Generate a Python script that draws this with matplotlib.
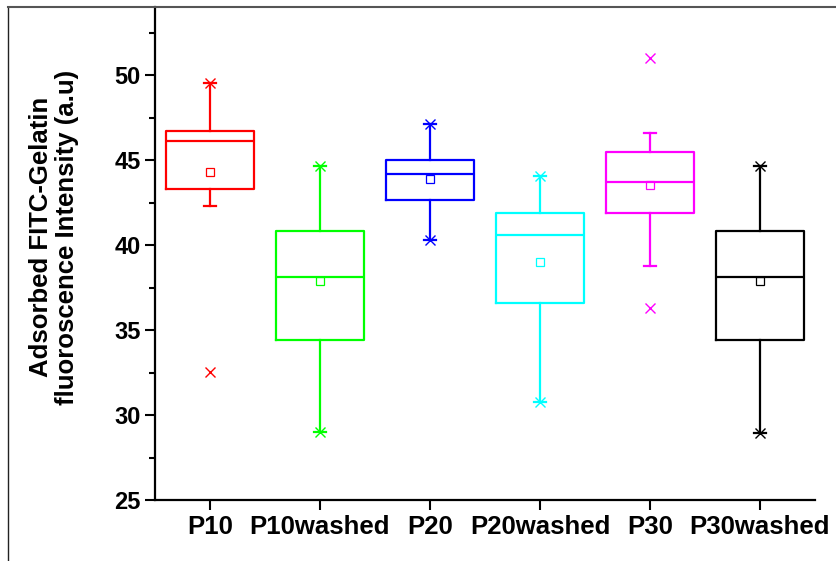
import matplotlib
matplotlib.use("Agg")
import matplotlib.pyplot as plt
from matplotlib.lines import Line2D

plt.rcParams['font.family'] = ['Liberation Sans', 'DejaVu Sans']
plt.rcParams['font.weight'] = 'bold'

# values
groups = ['P10', 'P10washed', 'P20', 'P20washed', 'P30', 'P30washed']
colors = ['#ff0000', '#00ff00', '#0000ff', '#00ffff', '#ff00ff', '#000000']
q1 = [43.3, 34.4, 42.67, 36.6, 41.86, 34.4]
median = [46.1, 38.12, 44.18, 40.57, 43.71, 38.12]
q3 = [46.72, 40.82, 45.0, 41.9, 45.45, 40.84]
mean = [44.31, 37.88, 43.88, 38.98, 43.53, 37.9]
whis_lo = [42.28, 28.98, 40.29, 30.75, 38.75, 28.97]
whis_hi = [49.55, 44.67, 47.1, 44.06, 46.59, 44.67]
# x markers (1% / 99% points and outliers)
extremes = [[49.55, 32.55], [44.67, 28.98], [47.1, 40.29], [44.06, 30.75],
            [50.98, 36.31], [44.67, 28.97]]

stats = []
for i, g in enumerate(groups):
    stats.append(dict(label=g, q1=q1[i], med=median[i], q3=q3[i], mean=mean[i],
                      whislo=whis_lo[i], whishi=whis_hi[i], fliers=extremes[i]))

fig = plt.figure(figsize=(8.37, 5.61), dpi=100)
ax = fig.add_axes([155 / 837, 1 - 500 / 561, 660 / 837, 493 / 561])

pos = list(range(1, len(groups) + 1))
res = ax.bxp(stats, positions=pos, widths=0.8, showmeans=True, patch_artist=False,
             capwidths=0.11)

lw = 1.6
for i, c in enumerate(colors):
    res['boxes'][i].set(color=c, linewidth=lw)
    res['medians'][i].set(color=c, linewidth=lw)
    for w in res['whiskers'][2 * i:2 * i + 2]:
        w.set(color=c, linewidth=lw)
    for cp in res['caps'][2 * i:2 * i + 2]:
        cp.set(color=c, linewidth=lw)
    res['means'][i].set(marker='s', markerfacecolor='none', markeredgecolor=c,
                        markersize=5.5, markeredgewidth=0.9)
    res['fliers'][i].set(marker='x', markeredgecolor=c, markersize=7,
                         markeredgewidth=1.0)

ax.set_xlim(0.5, 6.5)
ax.set_ylim(25, 54)
ax.set_yticks([25, 30, 35, 40, 45, 50])
ax.set_yticks([27.5, 32.5, 37.5, 42.5, 47.5, 52.5], minor=True)
ax.set_xticks(pos)
ax.set_xticklabels(groups, fontsize=18.5, fontweight='bold')
ax.tick_params(axis='y', labelsize=17, length=7, width=1.5, direction='out')
ax.tick_params(axis='y', which='minor', length=4, width=1.5)
ax.tick_params(axis='x', length=7, width=1.5, direction='out', pad=4)
for lab in ax.get_yticklabels():
    lab.set_fontweight('bold')

ax.spines['top'].set_visible(False)
ax.spines['right'].set_visible(False)
ax.spines['left'].set_linewidth(1.6)
ax.spines['bottom'].set_linewidth(1.6)

fig.text(54 / 837, 1 - 237 / 561,
         'Adsorbed FITC-Gelatin\nfluoroscence Intensity (a.u)',
         rotation=90, ha='center', va='center', fontsize=18.5,
         fontweight='bold', linespacing=1.15)

# outer frame lines
fig.add_artist(Line2D([8 / 837, 8 / 837], [0, 1 - 7 / 561], color='#222222',
                      linewidth=1.0, transform=fig.transFigure))
fig.add_artist(Line2D([8 / 837, 1], [1 - 7 / 561, 1 - 7 / 561], color='#555555',
                      linewidth=1.5, transform=fig.transFigure))

fig.savefig('out.png', dpi=100)
